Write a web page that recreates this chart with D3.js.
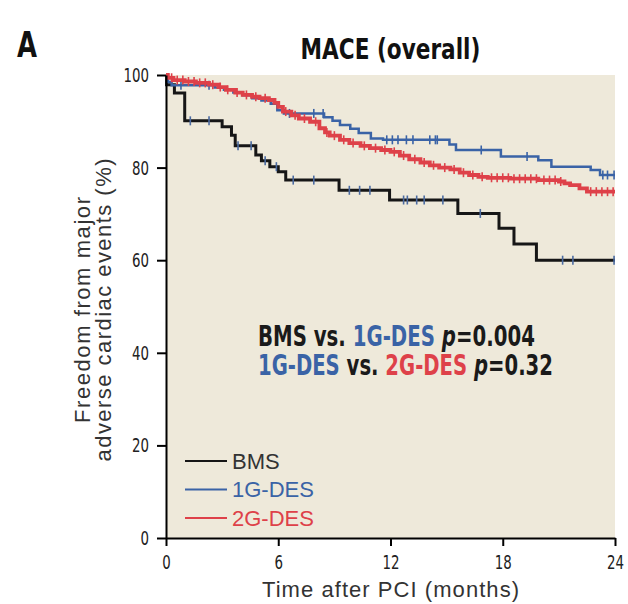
<!DOCTYPE html>
<html lang="en">
<head>
    <meta charset="UTF-8">
    <title>MACE (overall)</title>
    <script src="https://d3js.org/d3.v7.min.js"></script>
    <style>
        body { margin: 0; background: #fff; }
        svg { display: block; }
        .narrow { font-family: "Liberation Sans Narrow", "DejaVu Sans Condensed", "Liberation Sans", sans-serif; }
        .plain { font-family: "Liberation Sans", "Noto Sans", sans-serif; }
    </style>
</head>
<body>
    <div id="chart-div"></div>
    <script type="text/javascript">
        chartWidth = 628
        chartHeight = 604
        margin = ({top: 75, right: 13, bottom: 66, left: 166})

        // tick labels
        const monthTicks = [0, 6, 12, 18, 24];
        const pctTicks = [0, 20, 40, 60, 80, 100];

        // Kaplan-Meier steps: time (months) -> freedom (%)
        const bmsTime = [0, 0.03, 0.45, 1.0, 3.0, 3.5, 3.7, 4.8, 5.1, 5.55, 6.0, 6.4, 9.25, 11.95, 15.6, 17.8, 18.6, 19.8, 24];
        const bmsSurv = [100, 97.9, 96.1, 90.1, 88.8, 87, 84.7, 82.7, 81.5, 80.2, 79.1, 77.3, 75.1, 73, 70.1, 66.9, 63.5, 60, 60];
        const bmsCensor = [1.3, 2.3, 3.85, 4.55, 5.3, 5.9, 6.8, 7.9, 9.8, 10.35, 10.9, 12.7, 12.9, 13.4, 13.8, 14.8, 16.8, 21.2, 21.75, 23.95];

        const g1Time = [0, 0.1, 0.3, 2.6, 3.1, 3.6, 4.1, 4.6, 5.1, 5.6, 5.95, 6.3, 8.45, 8.9, 9.3, 9.85, 10.3, 10.95, 11.6, 15.15, 15.5, 17.9, 19.9, 20.6, 22.7, 23.2, 24];
        const g1Surv = [100, 98.5, 97.8, 97.3, 96.8, 96.2, 95.6, 95.0, 94.5, 93.8, 92.4, 91.7, 90.9, 90.1, 89.2, 88.4, 87.5, 86.3, 86.0, 85.0, 83.8, 82.4, 81.6, 80.2, 79.5, 78.4, 78.4];
        const g1Censor = [0.8, 2.3, 6.6, 7.9, 8.4, 11.8, 12.1, 12.4, 12.85, 13.2, 14.1, 14.4, 14.5, 16.85, 19.3, 23.35, 23.6, 23.95];

        const g2Time = [0, 0.1, 0.4, 1.0, 1.6, 2.3, 2.8, 3.2, 3.7, 4.1, 4.6, 5.0, 5.5, 5.8, 6.0, 6.25, 6.7, 7.1, 7.7, 8.2, 8.5, 8.75, 9.3, 9.8, 10.4, 10.9, 11.5, 12.0, 12.5, 13.0, 13.6, 14.1, 14.6, 15.2, 15.7, 16.2, 16.7, 17.2, 18.4, 19.9, 21.0, 21.3, 21.6, 22.1, 22.5, 24];
        const g2Surv = [100, 99.4, 98.9, 98.6, 98.3, 97.9, 97.4, 96.8, 96.2, 95.7, 95.3, 95.0, 94.6, 94.0, 93.1, 92.1, 91.3, 90.6, 89.9, 88.5, 87.6, 86.9, 86.0, 85.3, 84.7, 84.2, 83.8, 83.4, 82.6, 81.8, 81.1, 80.5, 80.0, 79.6, 78.9, 78.4, 78.0, 77.8, 77.6, 77.3, 77.0, 76.6, 76.2, 75.5, 74.8, 74.8];
        const g2Censor = [0.3, 0.6, 0.9, 1.2, 1.5, 1.8, 2.1, 2.5, 2.9, 3.3, 3.8, 4.3, 4.8, 5.3, 6.4, 6.9, 7.4, 8.0, 8.6, 9.0, 9.5, 10.0, 10.6, 11.2, 11.7, 12.2, 12.7, 13.3, 13.8, 14.3, 14.9, 15.4, 15.9, 16.4, 16.9, 17.4, 17.7, 18.0, 18.3, 18.6, 18.9, 19.2, 19.5, 19.8, 20.2, 20.5, 20.8, 21.1, 22.7, 23.0, 23.3, 23.6, 23.9];

        const groupNames = ["BMS", "1G-DES", "2G-DES"];
        const groupColors = ["#161616", "#3a63a6", "#de4149"];

        const series = [
            {name: groupNames[0], time: bmsTime, surv: bmsSurv, censor: bmsCensor, color: groupColors[0], width: 3, tick: "#4a6aa0"},
            {name: groupNames[1], time: g1Time, surv: g1Surv, censor: g1Censor, color: groupColors[1], width: 2.5, tick: groupColors[1]},
            {name: groupNames[2], time: g2Time, surv: g2Surv, censor: g2Censor, color: groupColors[2], width: 3.8, tick: groupColors[2]}
        ];

        x = d3.scaleLinear()
            .domain([0, 24])
            .range([margin.left, chartWidth - margin.right])
        y = d3.scaleLinear()
            .domain([0, 100])
            .range([chartHeight - margin.bottom, margin.top])

        // value of the step function at time t
        function survAt(s, t) {
            const i = d3.bisectRight(s.time, t) - 1;
            return s.surv[Math.max(0, i)];
        }

        // squeeze a text horizontally so it spans `width` px (no narrow font installed)
        function squeeze(text, left, baseline, width, anchor) {
            const w = text.node().getComputedTextLength();
            const sx = width / w;
            const x0 = anchor === "middle" ? left - width / 2 : left;
            text.attr("x", 0).attr("y", 0)
                .attr("transform", `translate(${x0},${baseline}) scale(${sx},1)`);
        }

        const svg = d3.select("#chart-div")
            .append("svg")
            .attr("width", chartWidth)
            .attr("height", chartHeight)
            .attr("viewBox", [0, 0, chartWidth, chartHeight]);

        // beige plot panel
        svg.append("rect")
            .attr("x", x(0))
            .attr("y", y(100))
            .attr("width", x(24) - x(0))
            .attr("height", y(0) - y(100))
            .attr("fill", "#eee9da");

        // panel letter and title
        const letter = svg.append("text")
            .attr("class", "narrow")
            .attr("font-size", 35)
            .attr("font-weight", "bold")
            .attr("fill", "#111")
            .text("A");
        squeeze(letter, 17, 57, 20);

        const title = svg.append("text")
            .attr("class", "narrow")
            .attr("font-size", 29)
            .attr("font-weight", "bold")
            .attr("fill", "#111")
            .text("MACE (overall)");
        squeeze(title, (x(0) + x(24)) / 2, 59, 180, "middle");

        // curves
        const line = d3.line()
            .curve(d3.curveStepAfter)
            .x(d => x(d[0]))
            .y(d => y(d[1]));

        series.forEach(s => {
            const pts = s.time.map((t, i) => [t, s.surv[i]]);
            svg.append("path")
                .attr("fill", "none")
                .attr("stroke", s.color)
                .attr("stroke-width", s.width)
                .attr("stroke-linejoin", "miter")
                .attr("d", line(pts));
            svg.append("g")
                .attr("stroke", s.tick)
                .attr("stroke-width", 1.6)
                .selectAll("line")
                .data(s.censor)
                .join("line")
                .attr("x1", d => x(d))
                .attr("x2", d => x(d))
                .attr("y1", d => y(survAt(s, d)) - 4.5)
                .attr("y2", d => y(survAt(s, d)) + 4.5);
        });

        // axes
        const squeezeLabels = g => g.selectAll(".tick text")
            .attr("class", "narrow")
            .attr("font-size", 20)
            .attr("fill", "#222")
            .attr("textLength", d => String(d).length * 8.5)
            .attr("lengthAdjust", "spacingAndGlyphs");

        const xAxis = g => g
            .attr("transform", `translate(0,${y(0)})`)
            .call(d3.axisBottom(x).tickValues(monthTicks).tickSize(8).tickPadding(9).tickSizeOuter(0))
            .call(g => g.select(".domain").attr("stroke-width", 2))
            .call(g => g.selectAll(".tick line").attr("stroke-width", 2))
            .call(squeezeLabels);

        const yAxis = g => g
            .attr("transform", `translate(${x(0)},0)`)
            .call(d3.axisLeft(y).tickValues(pctTicks).tickSize(9).tickPadding(8).tickSizeOuter(0))
            .call(g => g.select(".domain").attr("stroke-width", 2))
            .call(g => g.selectAll(".tick line").attr("stroke-width", 2))
            .call(squeezeLabels);

        svg.append("g").call(xAxis);
        svg.append("g").call(yAxis);

        // axis titles
        svg.append("text")
            .attr("class", "plain")
            .attr("x", (x(0) + x(24)) / 2)
            .attr("y", 597)
            .attr("text-anchor", "middle")
            .attr("font-size", 22)
            .attr("fill", "#333")
            .attr("textLength", 257)
            .attr("lengthAdjust", "spacing")
            .text("Time after PCI (months)");

        const yTitle = svg.append("g")
            .attr("transform", "translate(0,310) rotate(-90)")
            .attr("class", "plain")
            .attr("font-size", 22)
            .attr("fill", "#333")
            .attr("text-anchor", "middle");
        yTitle.append("text")
            .attr("x", 0).attr("y", 90)
            .attr("textLength", 226)
            .attr("lengthAdjust", "spacing")
            .text("Freedom from major");
        yTitle.append("text")
            .attr("x", 0).attr("y", 111)
            .attr("textLength", 303)
            .attr("lengthAdjust", "spacing")
            .text("adverse cardiac events (%)");

        // p-value annotation
        const note = svg.append("g")
            .attr("class", "narrow")
            .attr("font-size", 28)
            .attr("font-weight", "bold")
            .style("white-space", "pre");

        const line1 = note.append("text").attr("fill", "#1a1a1a");
        line1.append("tspan").text("BMS vs. ");
        line1.append("tspan").attr("fill", groupColors[1]).text("1G-DES");
        line1.append("tspan").text(" ");
        line1.append("tspan").attr("font-style", "italic").text("p");
        line1.append("tspan").text("=0.004");
        squeeze(line1, 258, 346, 277);

        const line2 = note.append("text").attr("fill", "#1a1a1a");
        line2.append("tspan").attr("fill", groupColors[1]).text("1G-DES");
        line2.append("tspan").text(" vs. ");
        line2.append("tspan").attr("fill", groupColors[2]).text("2G-DES");
        line2.append("tspan").text(" ");
        line2.append("tspan").attr("font-style", "italic").text("p");
        line2.append("tspan").text("=0.32");
        squeeze(line2, 258, 375, 295);

        // legend
        const legend = svg.append("g")
            .selectAll("g")
            .data(series)
            .join("g")
            .attr("transform", (d, i) => `translate(185,${461 + i * 28.5})`);
        legend.append("line")
            .attr("x1", 0).attr("x2", 42)
            .attr("stroke", d => d.color)
            .attr("stroke-width", 2);
        legend.append("text")
            .attr("class", "plain")
            .attr("x", 47)
            .attr("dy", "0.36em")
            .attr("font-size", 22)
            .attr("fill", (d, i) => i === 0 ? "#333" : d.color)
            .text(d => d.name);
    </script>
</body>
</html>
